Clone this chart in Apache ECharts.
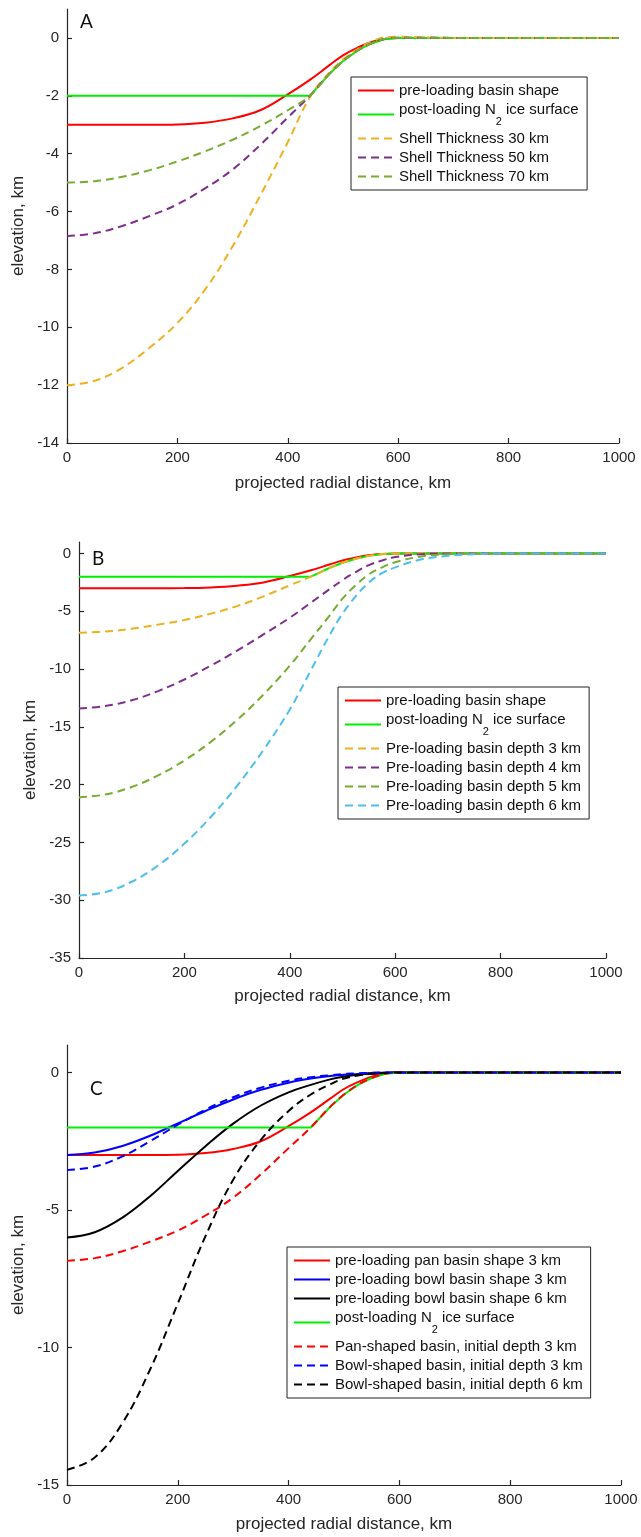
<!DOCTYPE html>
<html><head><meta charset="utf-8">
<script src="https://cdn.jsdelivr.net/npm/echarts@6/dist/echarts.min.js"></script>
<style>html,body{margin:0;padding:0;background:#fff}#c{width:641px;height:1537px}</style>
</head><body><div id="c"></div>
<script>
// ---------- data ----------
const X = [0,50,100,150,200,250,300,350,400,440,475,500,525,550,575,600,650,700,750,800,900,1000];
const xTicks = [0,200,400,600,800,1000];
const yTicksA = [-14,-12,-10,-8,-6,-4,-2,0];
const yTicksB = [-35,-30,-25,-20,-15,-10,-5,0];
const yTicksC = [-15,-10,-5,0];

// shared profiles
const preLoadingPan3 = [-3,-3,-3,-3,-2.99,-2.93,-2.78,-2.5,-1.95,-1.45,-0.95,-0.6,-0.35,-0.15,-0.04,0,0,0,0,0,0,0];
const postLoadingIce = [-2,-2,-2,-2,-2,-2,-2,-2,-2,-2,-1.25,-0.8,-0.45,-0.2,-0.05,0,0,0,0,0,0,0];

// panel A
const shell30 = [-12,-11.85,-11.4,-10.7,-9.85,-8.7,-7.2,-5.45,-3.6,-2.05,-1.2,-0.75,-0.4,-0.15,0.02,0.04,0.02,0,0,0,0,0];
const shell50 = [-6.85,-6.75,-6.5,-6.15,-5.75,-5.2,-4.55,-3.7,-2.75,-2.0,-1.25,-0.8,-0.45,-0.2,-0.04,0.01,0.01,0,0,0,0,0];
const shell70 = [-5.0,-4.95,-4.8,-4.57,-4.27,-3.92,-3.52,-3.05,-2.5,-2.0,-1.25,-0.8,-0.45,-0.2,-0.04,0.01,0.01,0,0,0,0,0];

// panel B
const depth3 = [-6.85,-6.75,-6.5,-6.15,-5.75,-5.2,-4.55,-3.7,-2.75,-2.0,-1.25,-0.8,-0.45,-0.2,-0.04,0.01,0.01,0,0,0,0,0];
const depth4 = [-13.4,-13.2,-12.7,-11.9,-10.9,-9.7,-8.4,-7.0,-5.55,-4.25,-3.1,-2.3,-1.6,-1.0,-0.6,-0.3,-0.05,0,0,0,0,0];
const depth5 = [-21.1,-20.85,-20.2,-19.2,-17.9,-16.3,-14.4,-12.2,-9.7,-7.4,-5.4,-3.9,-2.75,-1.8,-1.2,-0.75,-0.25,-0.05,0,0,0,0];
const depth6 = [-29.6,-29.3,-28.4,-27.0,-25.1,-22.8,-20.1,-17.0,-13.5,-10.1,-7.1,-5.2,-3.7,-2.5,-1.7,-1.2,-0.5,-0.2,-0.05,0,0,0];

// panel C
const bowl3Pre = [-3,-2.91,-2.67,-2.3,-1.85,-1.4,-0.98,-0.63,-0.37,-0.22,-0.13,-0.08,-0.05,-0.02,-0.01,0,0,0,0,0,0,0];
const bowl6Pre = [-6,-5.81,-5.28,-4.5,-3.58,-2.68,-1.86,-1.2,-0.72,-0.45,-0.25,-0.15,-0.08,-0.04,-0.01,0,0,0,0,0,0,0];
const panInit3 = [-6.85,-6.75,-6.5,-6.15,-5.75,-5.2,-4.55,-3.7,-2.75,-2.0,-1.25,-0.8,-0.45,-0.2,-0.04,0.01,0.01,0,0,0,0,0];
const bowlInit3 = [-3.55,-3.42,-3.05,-2.5,-1.9,-1.35,-0.9,-0.55,-0.3,-0.17,-0.1,-0.05,-0.03,-0.01,0,0,0,0,0,0,0,0];
const bowlInit6 = [-14.45,-14.0,-12.75,-10.8,-8.4,-5.95,-3.9,-2.45,-1.4,-0.8,-0.43,-0.22,-0.11,-0.05,-0.02,0,0,0,0,0,0,0];

const legendA = ['pre-loading basin shape','post-loading N2 ice surface','Shell Thickness 30 km','Shell Thickness 50 km','Shell Thickness 70 km'];
const legendB = ['pre-loading basin shape','post-loading N2 ice surface','Pre-loading basin depth 3 km','Pre-loading basin depth 4 km','Pre-loading basin depth 5 km','Pre-loading basin depth 6 km'];
const legendC = ['pre-loading pan basin shape 3 km','pre-loading bowl basin shape 3 km','pre-loading bowl basin shape 6 km','post-loading N2 ice surface','Pan-shaped basin, initial depth 3 km','Bowl-shaped basin, initial depth 3 km','Bowl-shaped basin, initial depth 6 km'];

// ---------- chart ----------
const FONT = 'Liberation Sans';
const AX = '#262626';
const RED='#ff0000', GREEN='#00ee00', ORANGE='#EDB120', PURPLE='#7E2F8E', OLIVE='#77AC30', CYAN='#4DBEEE', BLUE='#0000ff', BLACK='#000000';

function line(name, ys, color, dashed, gi, smooth) {
  return {
    type:'line', name, xAxisIndex:gi, yAxisIndex:gi,
    data: X.map((x,i)=>[x, ys[i]]),
    showSymbol:false, symbol:'none', smooth: smooth === false ? false : 0.4,
    lineStyle:{color, width:2, type: dashed ? [8,5] : 'solid'},
    itemStyle:{color}, z: dashed ? 3 : 2, silent:true
  };
}

function xAxis(gi, gap) {
  return {type:'value', gridIndex:gi, min:0, max:1000, interval:200,
    axisLine:{show:true, onZero:false, lineStyle:{color:AX, width:1.2}},
    axisTick:{show:true, inside:true, length:5, lineStyle:{color:AX, width:1.2}},
    axisLabel:{margin:7, fontSize:15, color:AX, fontFamily:FONT, customValues:xTicks, formatter: v => String(v)},
    splitLine:{show:false},
    name:'projected radial distance, km', nameLocation:'middle', nameGap:gap,
    nameTextStyle:{fontSize:17, color:AX, fontFamily:FONT}};
}
function yAxis(gi, min, ticks) {
  return {type:'value', gridIndex:gi, min, max:1,
    axisLine:{show:true, onZero:false, lineStyle:{color:AX, width:1.2}},
    axisTick:{show:true, inside:true, length:5, customValues:ticks, lineStyle:{color:AX, width:1.2}},
    axisLabel:{margin:8, fontSize:15, color:AX, fontFamily:FONT, customValues:ticks, formatter: v => String(v)},
    splitLine:{show:false},
    name:'elevation, km', nameLocation:'middle', nameGap:40,
    nameTextStyle:{fontSize:17, color:AX, fontFamily:FONT}};
}
function legend(names, left, top) {
  return {data:names, orient:'vertical', left, top, itemWidth:36, itemHeight:14, itemGap:4,
    padding:[6,8,6,6], backgroundColor:'#fff', borderColor:'#222', borderWidth:1, selectedMode:false,
    itemStyle:{opacity:0, color:'rgba(0,0,0,0)', borderWidth:0},
    formatter: n => n.indexOf('N2')>=0 ? '{m|post-loading N}{sub|2}{m| ice surface}{tall| }' : n,
    textStyle:{fontSize:15, lineHeight:15, color:'#111', fontFamily:FONT,
      rich:{ m:{fontSize:15, lineHeight:15, color:'#111', fontFamily:FONT, verticalAlign:'top'},
             sub:{fontSize:11, lineHeight:11, color:'#111', fontFamily:FONT, verticalAlign:'bottom'},
             tall:{fontSize:2, lineHeight:25, verticalAlign:'middle'} }}};
}

const option = {
  animation:false,
  backgroundColor:'#fff',
  grid:[
    {left:67, top:9, width:552, height:434},
    {left:79, top:542, width:527, height:416},
    {left:67, top:1045, width:554, height:440}
  ],
  xAxis:[xAxis(0,32), xAxis(1,30), xAxis(2,31)],
  yAxis:[yAxis(0,-14,yTicksA), yAxis(1,-35,yTicksB), yAxis(2,-15,yTicksC)],
  legend:[legend(legendA,351,77), legend(legendB,338,687), legend(legendC,287,1247)],
  graphic:[
    {type:'text', left:80, top:12, style:{text:'A', fontSize:19, fontFamily:'Lato', fill:'#111'}},
    {type:'text', left:92, top:549, style:{text:'B', fontSize:19, fontFamily:'Lato', fill:'#111'}},
    {type:'text', left:90, top:1079, style:{text:'C', fontSize:19, fontFamily:'Lato', fill:'#111'}}
  ],
  series:[
    line(legendA[0], preLoadingPan3, RED, false, 0),
    line(legendA[1], postLoadingIce, GREEN, false, 0, false),
    line(legendA[2], shell30, ORANGE, true, 0),
    line(legendA[3], shell50, PURPLE, true, 0),
    line(legendA[4], shell70, OLIVE, true, 0),

    line(legendB[0], preLoadingPan3, RED, false, 1),
    line(legendB[1], postLoadingIce, GREEN, false, 1, false),
    line(legendB[2], depth3, ORANGE, true, 1),
    line(legendB[3], depth4, PURPLE, true, 1),
    line(legendB[4], depth5, OLIVE, true, 1),
    line(legendB[5], depth6, CYAN, true, 1),

    line(legendC[0], preLoadingPan3, RED, false, 2),
    line(legendC[1], bowl3Pre, BLUE, false, 2),
    line(legendC[2], bowl6Pre, BLACK, false, 2),
    line(legendC[3], postLoadingIce, GREEN, false, 2, false),
    line(legendC[4], panInit3, RED, true, 2),
    line(legendC[5], bowlInit3, BLUE, true, 2),
    line(legendC[6], bowlInit6, BLACK, true, 2)
  ]
};
const chart = echarts.init(document.getElementById('c'), null, {renderer:'canvas'});
chart.setOption(option);
</script></body></html>
